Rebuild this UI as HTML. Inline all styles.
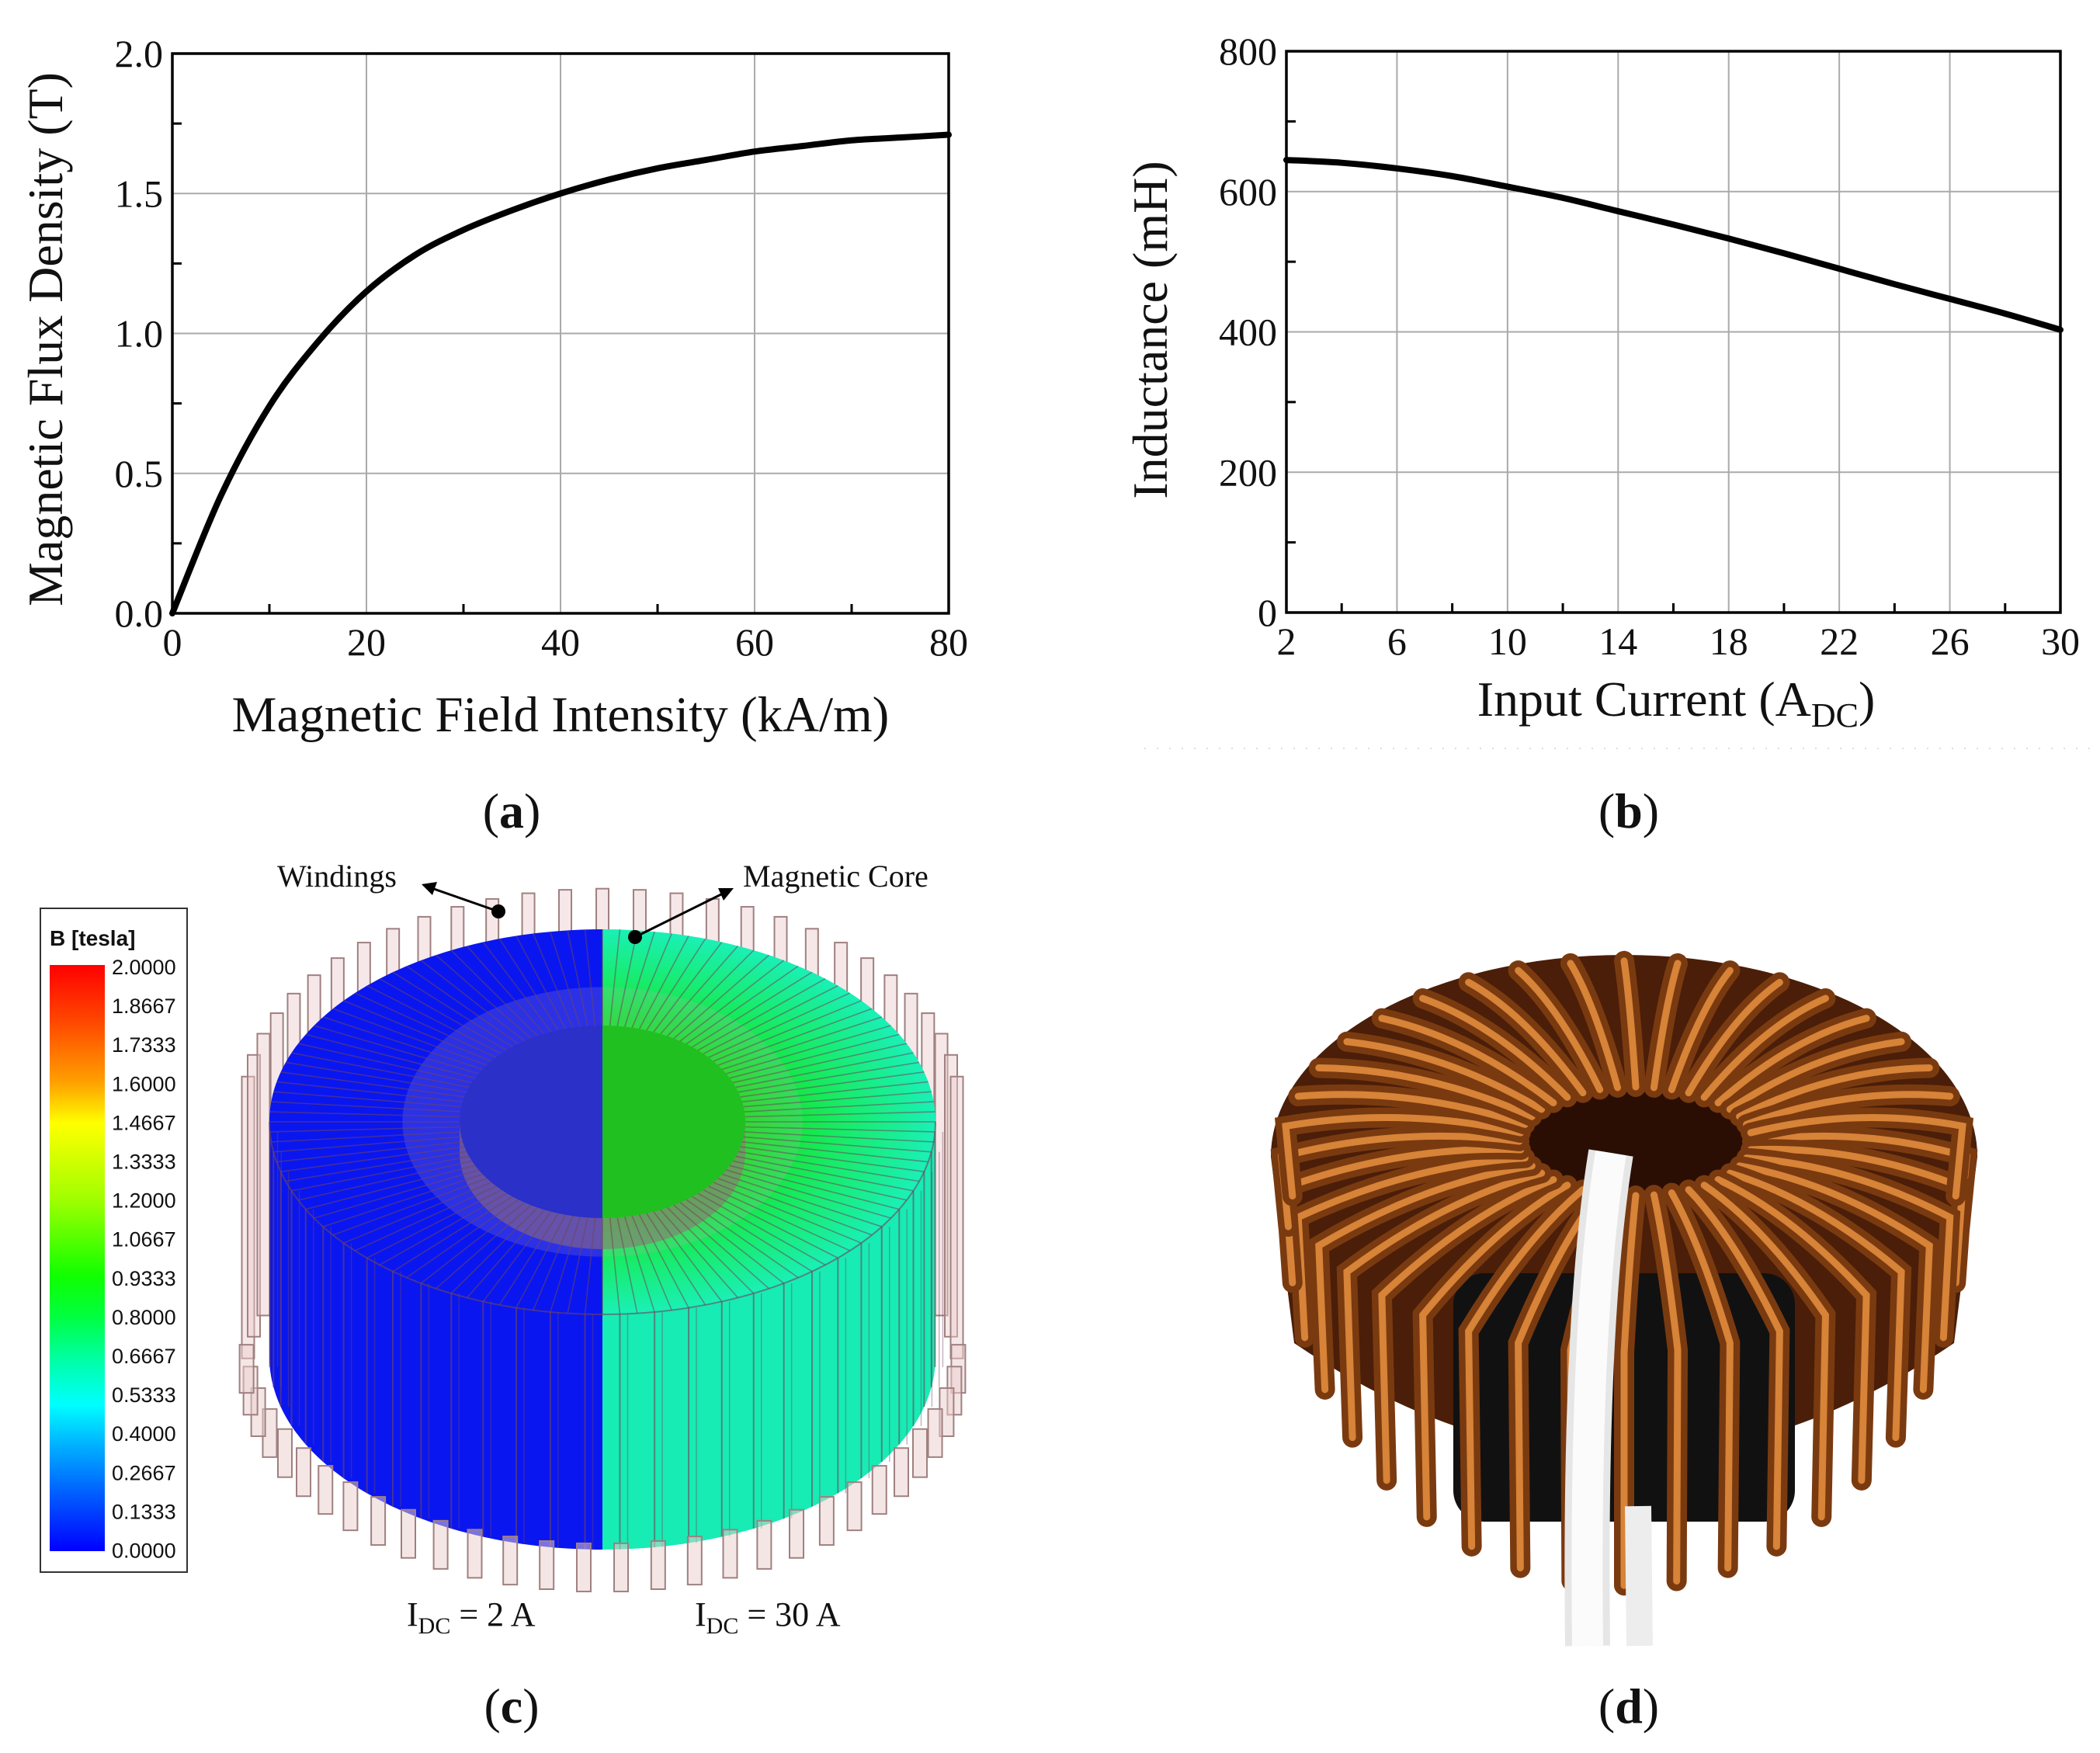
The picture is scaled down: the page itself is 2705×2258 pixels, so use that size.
<!DOCTYPE html>
<html><head><meta charset="utf-8">
<style>
html,body{margin:0;padding:0;background:#fff;}
svg{display:block;}
text{font-family:"Liberation Serif",serif;fill:#111;}
.sans{font-family:"Liberation Sans",sans-serif;}
</style></head>
<body>
<svg id="fig" width="2705" height="2258" viewBox="0 0 2705 2258" xmlns="http://www.w3.org/2000/svg">
<defs>
<linearGradient id="cbar" x1="0" y1="0" x2="0" y2="1">
<stop offset="0" stop-color="#ff0000"/>
<stop offset="0.1" stop-color="#ff4a00"/>
<stop offset="0.2" stop-color="#ffa000"/>
<stop offset="0.27" stop-color="#ffff00"/>
<stop offset="0.4" stop-color="#a0ff00"/>
<stop offset="0.53" stop-color="#10ff00"/>
<stop offset="0.6" stop-color="#00ff40"/>
<stop offset="0.67" stop-color="#00ffa0"/>
<stop offset="0.75" stop-color="#00ffff"/>
<stop offset="0.82" stop-color="#00b0ff"/>
<stop offset="0.9" stop-color="#0060ff"/>
<stop offset="1" stop-color="#0000ff"/>
</linearGradient>
<radialGradient id="topGreen" cx="776" cy="1445" r="430" gradientUnits="userSpaceOnUse" gradientTransform="translate(0,1445) scale(1,0.58) translate(0,-1445)">
<stop offset="0.4" stop-color="#10e010"/>
<stop offset="0.75" stop-color="#18ec70"/>
<stop offset="1" stop-color="#1af0b8"/>
</radialGradient>
<clipPath id="clipL"><rect x="0" y="1100" width="776" height="1100"/></clipPath>
<clipPath id="clipR"><rect x="776" y="1100" width="600" height="1100"/></clipPath>
</defs>

<g id="chartA"></g>
<g id="chartB"></g>

<line x1="1474" y1="964" x2="2705" y2="964" stroke="#ddd" stroke-width="2" stroke-dasharray="2,14"/>

<text x="659" y="1066" font-size="64" text-anchor="middle">(<tspan font-weight="bold">a</tspan>)</text>
<text x="2098" y="1066" font-size="64" text-anchor="middle">(<tspan font-weight="bold">b</tspan>)</text>
<text x="659" y="2219" font-size="64" text-anchor="middle">(<tspan font-weight="bold">c</tspan>)</text>
<text x="2098" y="2219" font-size="64" text-anchor="middle">(<tspan font-weight="bold">d</tspan>)</text>

<g>
<rect x="52" y="1170" width="189" height="855" fill="#fff" stroke="#333" stroke-width="2"/>
<text class="sans" x="64" y="1218" font-size="28" font-weight="bold">B [tesla]</text>
<rect x="64" y="1243" width="71" height="755" fill="url(#cbar)"/>
<g id="cbLabels"></g>
</g>

<g id="toroidC"></g>

<text x="357" y="1142" font-size="40">Windings</text>
<text x="957" y="1142" font-size="40">Magnetic Core</text>
<g stroke="#000" stroke-width="3" fill="#000">
<line x1="642" y1="1174" x2="556" y2="1144"/>
<polygon points="543,1139 563,1136 557,1153" stroke="none"/>
<circle cx="642" cy="1174" r="9" stroke="none"/>
<line x1="818" y1="1207" x2="933" y2="1150"/>
<polygon points="945,1144 932,1160 925,1144" stroke="none"/>
<circle cx="818" cy="1207" r="9" stroke="none"/>
</g>
<text x="524" y="2094" font-size="44">I<tspan font-size="30" dy="10">DC</tspan><tspan dy="-10">  = 2 A</tspan></text>
<text x="895" y="2094" font-size="44">I<tspan font-size="30" dy="10">DC</tspan><tspan dy="-10">  = 30 A</tspan></text>

<g id="photoD"></g>
</svg>

<script>
var NS="http://www.w3.org/2000/svg";
function mk(parent,tag,attrs){var e=document.createElementNS(NS,tag);for(var k in attrs)e.setAttribute(k,attrs[k]);parent.appendChild(e);return e;}

var aX=[0,5,10,15,20,25,30,35,40,45,50,55,60,65,70,75,80];
var aY=[0,0.42,0.74,0.97,1.15,1.28,1.37,1.44,1.50,1.55,1.59,1.62,1.65,1.67,1.69,1.70,1.71];
var aXTicks=[0,20,40,60,80];
var aYTicks=["0.0","0.5","1.0","1.5","2.0"];
var bX=[2,4,6,8,10,12,14,16,18,20,22,24,26,28,30];
var bY=[645,641,633,622,607,591,572,553,533,512,490,468,447,426,403];
var bXTicks=[2,6,10,14,18,22,26,30];
var bYTicks=[0,200,400,600,800];
var cbLabels=["2.0000","1.8667","1.7333","1.6000","1.4667","1.3333","1.2000","1.0667","0.9333","0.8000","0.6667","0.5333","0.4000","0.2667","0.1333","0.0000"];

function smoothPath(pts){
  var d="M"+pts[0][0]+","+pts[0][1];
  for(var i=0;i<pts.length-1;i++){
    var p0=pts[Math.max(0,i-1)],p1=pts[i],p2=pts[i+1],p3=pts[Math.min(pts.length-1,i+2)];
    var c1x=p1[0]+(p2[0]-p0[0])/6,c1y=p1[1]+(p2[1]-p0[1])/6;
    var c2x=p2[0]-(p3[0]-p1[0])/6,c2y=p2[1]-(p3[1]-p1[1])/6;
    d+=" C"+c1x+","+c1y+" "+c2x+","+c2y+" "+p2[0]+","+p2[1];
  }
  return d;
}

function chart(g,o){
  var sx=function(v){return o.L+(v-o.xmin)/(o.xmax-o.xmin)*(o.R-o.L);};
  var sy=function(v){return o.B-(v-o.ymin)/(o.ymax-o.ymin)*(o.B-o.T);};
  o.xt.forEach(function(v){var x=sx(+v);
    var l=mk(g,"line",{x1:x,y1:o.T,x2:x,y2:o.B,stroke:"#aaa","stroke-width":2});
    
    
    var t=mk(g,"text",{x:x,y:o.B+54,"font-size":50,"text-anchor":"middle"});t.textContent=v;
    
    
  });
  o.yt.forEach(function(v){var y=sy(+v);
    var l=mk(g,"line",{x1:o.L,y1:y,x2:o.R,y2:y,stroke:"#aaa","stroke-width":2});
    
    
    var t=mk(g,"text",{x:o.L-12,y:y+17,"font-size":50,"text-anchor":"end"});t.textContent=v;
    
    
  });
  for(var i=0;i<o.xt.length-1;i++){var x=(sx(+o.xt[i])+sx(+o.xt[i+1]))/2;
    var m=mk(g,"line",{x1:x,y1:o.B,x2:x,y2:o.B-12,stroke:"#000","stroke-width":3});
    
    }
  for(var j=0;j<o.yt.length-1;j++){var y=(sy(+o.yt[j])+sy(+o.yt[j+1]))/2;
    var m2=mk(g,"line",{x1:o.L,y1:y,x2:o.L+12,y2:y,stroke:"#000","stroke-width":3});
    
    }
  var fr=mk(g,"rect",{x:o.L,y:o.T,width:o.R-o.L,height:o.B-o.T,fill:"none",stroke:"#000","stroke-width":3.5});
  
  
  var pts=o.xs.map(function(v,i){return [sx(v),sy(o.ys[i])];});
  var p=mk(g,"path",{d:smoothPath(pts),fill:"none",stroke:"#000","stroke-width":8,"stroke-linecap":"round"});
  
  
}

var gA=document.getElementById("chartA");
chart(gA,{L:222,R:1222,T:69,B:790,xmin:0,xmax:80,ymin:0,ymax:2,xt:aXTicks,yt:aYTicks,xs:aX,ys:aY});
var ta=mk(gA,"text",{x:0,y:0,"font-size":64,"text-anchor":"middle",transform:"translate(80,437) rotate(-90)"});
ta.textContent="Magnetic Flux Density (T)";


var xa=mk(gA,"text",{x:722,y:942,"font-size":65,"text-anchor":"middle"});
xa.textContent="Magnetic Field Intensity (kA/m)";



var gB=document.getElementById("chartB");
chart(gB,{L:1657,R:2654,T:66,B:789,xmin:2,xmax:30,ymin:0,ymax:800,xt:bXTicks,yt:bYTicks,xs:bX,ys:bY});
var tb=mk(gB,"text",{x:0,y:0,"font-size":64,"text-anchor":"middle",transform:"translate(1503,425) rotate(-90)"});
tb.textContent="Inductance (mH)";


var xb=mk(gB,"text",{x:2159,y:922,"font-size":64,"text-anchor":"middle"});
xb.innerHTML='Input Current (A<tspan font-size="44" dy="14">DC</tspan><tspan dy="-14">)</tspan>';



var cbg=document.getElementById("cbLabels");
cbLabels.forEach(function(s,i){
  var t=mk(cbg,"text",{x:144,y:1255+i*50.1,"font-size":27,"class":"sans"});t.textContent=s;
  
  
});

(function(){
  var g=document.getElementById("toroidC");
  var cx=776,cy=1445,R=429,ry=248,H=303,r=184,rr=124;
  var N=60,Rw=R*1.07,ryw=ry*1.09;
  for(var k=0;k<N;k++){
    var th=2*Math.PI*k/N;
    var x=cx+Rw*Math.cos(th), y=cy+ryw*Math.sin(th);
    if(Math.sin(th)<0){
      var w=mk(g,"rect",{x:x-8,y:y-30,width:16,height:H+60,fill:"rgba(235,205,205,0.45)",stroke:"#a08080","stroke-width":2});
      
      
    }
  }
  var side="M"+(cx-R)+","+cy+" L"+(cx-R)+","+(cy+H)+" A"+R+","+ry+" 0 0 0 "+(cx+R)+","+(cy+H)+" L"+(cx+R)+","+cy+" Z";
  var s1=mk(g,"path",{d:side,fill:"#0a16f0","clip-path":"url(#clipL)"});
  
  
  var s2=mk(g,"path",{d:side,fill:"#16ecb4","clip-path":"url(#clipR)"});
  
  
  var t1=mk(g,"ellipse",{cx:cx,cy:cy,rx:R,ry:ry,fill:"#0a16f0","clip-path":"url(#clipL)"});
  
  
  var t2=mk(g,"ellipse",{cx:cx,cy:cy,rx:R,ry:ry,fill:"url(#topGreen)","clip-path":"url(#clipR)"});
  
  
  var ring=mk(g,"ellipse",{cx:cx,cy:cy,rx:r*1.4,ry:rr*1.4,fill:"rgba(200,170,190,0.18)"});
  
  
  var h1=mk(g,"ellipse",{cx:cx,cy:cy,rx:r,ry:rr,fill:"#2a30c8","clip-path":"url(#clipL)"});
  
  
  var h2=mk(g,"ellipse",{cx:cx,cy:cy,rx:r,ry:rr,fill:"#20c020","clip-path":"url(#clipR)"});
  
  
  var hb=mk(g,"path",{d:"M"+(cx-r)+","+(cy+40)+" A"+r+","+rr+" 0 0 0 "+(cx+r)+","+(cy+40)+" L"+(cx+r)+","+cy+" A"+r+","+rr+" 0 0 1 "+(cx-r)+","+cy+" Z",fill:"rgba(150,110,120,0.55)"});
  
  
  for(var k2=0;k2<N*2;k2++){
    var th2=2*Math.PI*k2/(N*2);
    var l=mk(g,"line",{x1:cx+r*Math.cos(th2),y1:cy+rr*Math.sin(th2),x2:cx+R*Math.cos(th2),y2:cy+ry*Math.sin(th2),stroke:"rgba(110,70,90,0.55)","stroke-width":1.6});
    
    
  }
  for(var k3=0;k3<N;k3++){
    var th3=2*Math.PI*(k3+0.5)/N;
    if(Math.sin(th3)>0.05){
      var x3=cx+R*Math.cos(th3),y3=cy+ry*Math.sin(th3);
      var v=mk(g,"line",{x1:x3,y1:y3,x2:x3,y2:y3+H,stroke:"rgba(110,70,90,0.6)","stroke-width":2});
      
      
      var v2=mk(g,"line",{x1:x3+10,y1:y3,x2:x3+10,y2:y3+H,stroke:"rgba(110,70,90,0.4)","stroke-width":1.5});
      
      
    }
  }
  var edge=mk(g,"path",{d:"M"+(cx-R)+","+cy+" A"+R+","+ry+" 0 0 0 "+(cx+R)+","+cy,fill:"none",stroke:"rgba(110,70,90,0.6)","stroke-width":2});
  
  
  for(var k4=0;k4<N;k4++){
    var th4=2*Math.PI*(k4+0.5)/N;
    if(Math.sin(th4)>=0){
      var x4=cx+Rw*Math.cos(th4),y4=cy+ryw*Math.sin(th4)+H;
      var f=mk(g,"rect",{x:x4-9,y:y4-30,width:18,height:62,fill:"rgba(235,205,205,0.5)",stroke:"#a08080","stroke-width":2});
      
      
    }
  }
})();

(function(){
  var g=document.getElementById("photoD");
  var cx=2092,cy=1490,R=455,ry=260,H=300;
  var body=mk(g,"path",{d:"M"+(cx-R)+","+cy+" L"+(cx-R+30)+","+(cy+H-60)+" Q"+cx+","+(cy+H+230)+" "+(cx+R-30)+","+(cy+H-60)+" L"+(cx+R)+","+cy+" A"+R+","+ry+" 0 0 0 "+(cx-R)+","+cy+" Z",fill:"#4a1e08"});
  
  
  var core=mk(g,"rect",{x:cx-220,y:cy+150,width:440,height:320,rx:40,fill:"#111"});
  
  
  var hole=mk(g,"ellipse",{cx:cx+15,cy:cy-20,rx:150,ry:70,fill:"#2a0e04"});
  
  
  var N=40;
  for(var k=0;k<N;k++){
    var th=2*Math.PI*k/N;
    var xi=cx+15+150*Math.cos(th),yi=cy-20+70*Math.sin(th);
    var xo=cx+R*0.97*Math.cos(th),yo=cy+ry*0.97*Math.sin(th);
    var d="M"+xi+","+yi+" Q"+((xi+xo)/2)+","+((yi+yo)/2-30)+" "+xo+","+yo;
    if(Math.sin(th)>-0.2){d+=" L"+(xo*0.98+cx*0.02)+","+(yo+H*(0.3+0.7*Math.max(0,Math.sin(th))));}
    var w=mk(g,"path",{d:d,fill:"none",stroke:"#7a3a10","stroke-width":26,"stroke-linecap":"round"});
    
    
    var hl=mk(g,"path",{d:d,fill:"none",stroke:"#e89040","stroke-width":9,"stroke-linecap":"round",opacity:0.85});
    
    
  }
  var c1=mk(g,"path",{d:"M2075,1485 Q2040,1700 2045,2120",fill:"none",stroke:"#e6e6e6","stroke-width":58,"stroke-linecap":"butt"});
  
  
  var c2=mk(g,"path",{d:"M2075,1485 Q2040,1700 2045,2120",fill:"none",stroke:"#fbfbfb","stroke-width":40});
  
  
  var c3=mk(g,"path",{d:"M2110,1940 L2112,2120",fill:"none",stroke:"#ededed","stroke-width":34});
  
  
})();
</script>
</body></html>
